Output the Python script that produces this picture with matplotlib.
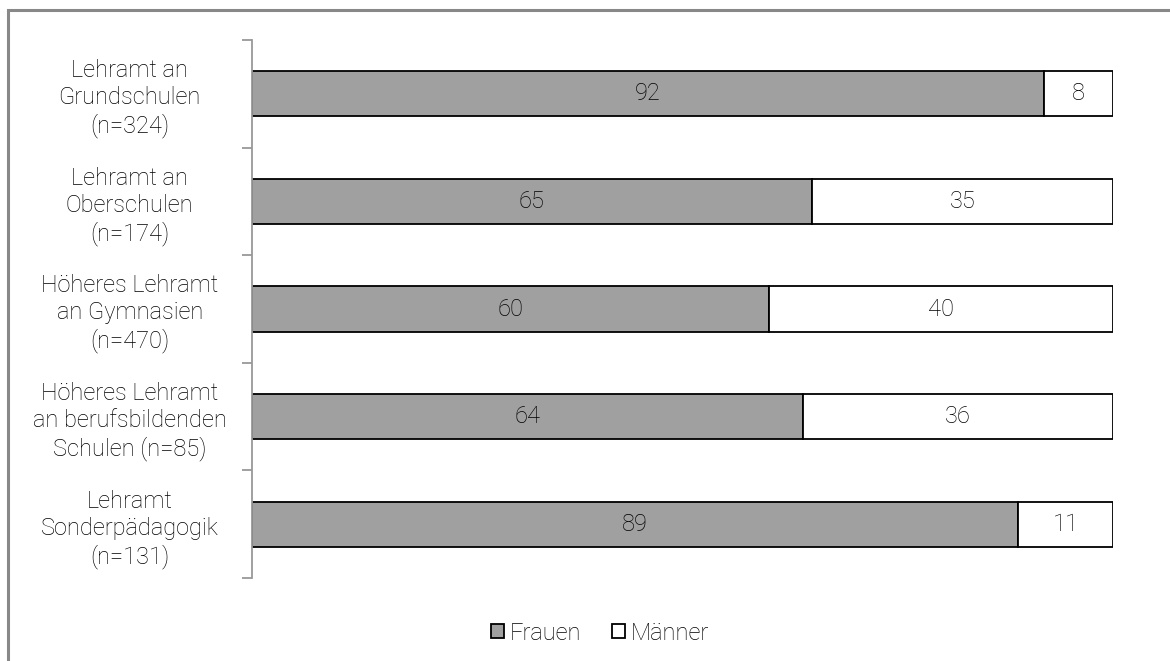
import numpy as np
import matplotlib.pyplot as plt
from matplotlib.patches import Rectangle, Patch

categories = [
    'Lehramt an\nGrundschulen\n(n=324)',
    'Lehramt an\nOberschulen\n(n=174)',
    'Höheres Lehramt\nan Gymnasien\n(n=470)',
    'Höheres Lehramt\nan berufsbildenden\nSchulen (n=85)',
    'Lehramt\nSonderpädagogik\n(n=131)',
]
frauen = [92, 65, 60, 64, 89]
maenner = [8, 35, 40, 36, 11]

plt.rcParams['font.family'] = ['Roboto', 'DejaVu Sans']
plt.rcParams['font.weight'] = 'light'

fig = plt.figure(figsize=(11.7, 6.61), dpi=100)
ax = fig.add_axes([252 / 1170, 1 - 578 / 661, (1113 - 252) / 1170, (578 - 40) / 661])

# frame around the chart (only left/top visible in the image)
fig.patches.append(Rectangle((8 / 1170, -0.1), 1.2, 1.1 - 10 / 661, transform=fig.transFigure,
                             fill=False, edgecolor='#888888', linewidth=2.2))

y = np.arange(len(categories))
h = 0.42
ax.barh(y, frauen, height=h, color='#a0a0a0', edgecolor='black', linewidth=1.3, label='Frauen')
ax.barh(y, maenner, left=frauen, height=h, color='white', edgecolor='black', linewidth=1.3, label='Männer')

for i in range(len(categories)):
    ax.text(frauen[i] / 2, y[i], str(frauen[i]), ha='center', va='center', fontsize=17, color='black')
    ax.text(frauen[i] + maenner[i] / 2, y[i], str(maenner[i]), ha='center', va='center', fontsize=17, color='black')

ax.set_xlim(0, 100)
ax.set_ylim(len(categories) - 0.5, -0.5)
ax.set_xticks([])
ax.set_yticks(np.arange(len(categories) + 1) - 0.5)
ax.set_yticklabels([])
ax.set_yticks(y, minor=True)
ax.set_yticklabels(categories, minor=True, fontsize=17, linespacing=1.22, ha='center', color='black')
ax.tick_params(axis='y', which='minor', length=0, pad=88)
ax.tick_params(axis='y', which='major', length=7, color='#999999', width=1.3)
for s in ['top', 'right', 'bottom']:
    ax.spines[s].set_visible(False)
ax.spines['left'].set_color('#999999')
ax.spines['left'].set_linewidth(1.3)

fig.legend(handles=[Patch(facecolor='#a0a0a0', edgecolor='black', linewidth=1.3, label='Frauen'),
                    Patch(facecolor='white', edgecolor='black', linewidth=1.3, label='Männer')],
           loc='center', bbox_to_anchor=(600 / 1170, 1 - 633 / 661), ncol=2, frameon=False,
           fontsize=17, handlelength=0.55, handleheight=0.55, handletextpad=0.25, columnspacing=1.3)

fig.savefig('out.png', dpi=100)
